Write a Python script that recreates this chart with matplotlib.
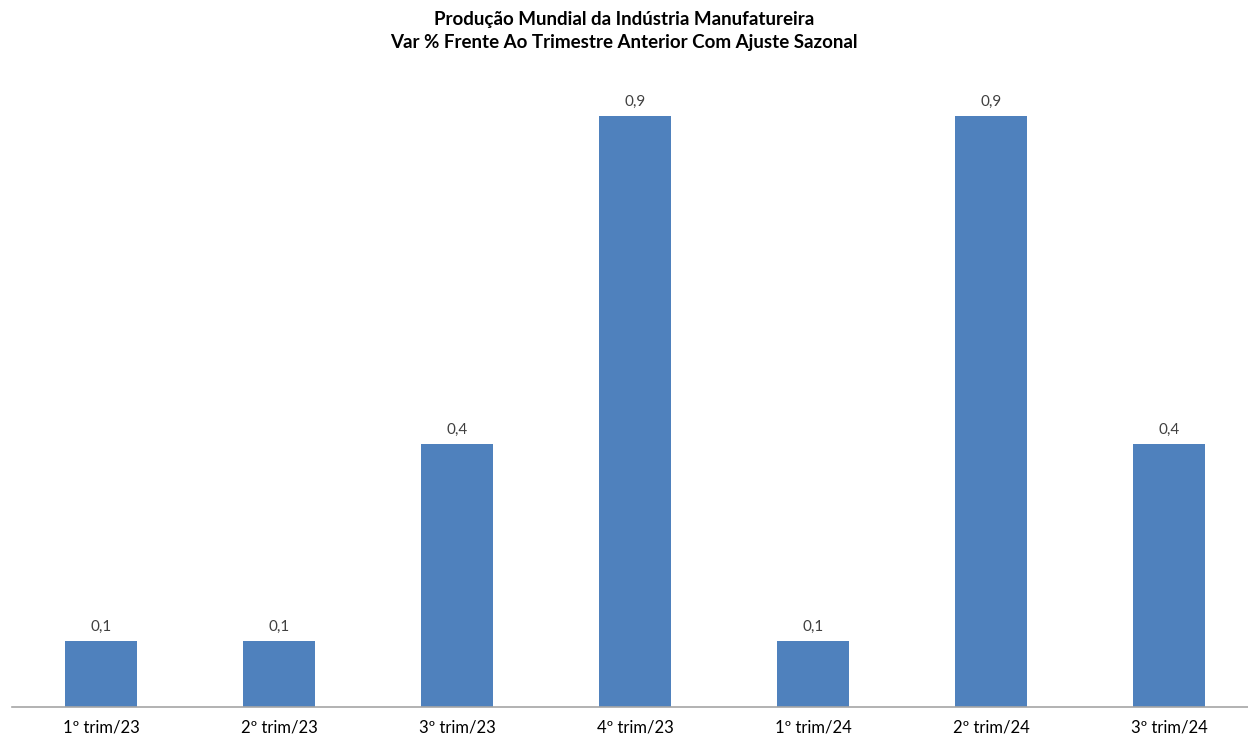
import matplotlib
matplotlib.use("Agg")
import matplotlib.pyplot as plt

categories = ["1º trim/23", "2º trim/23", "3º trim/23", "4º trim/23",
              "1º trim/24", "2º trim/24", "3º trim/24"]
values = [0.1, 0.1, 0.4, 0.9, 0.1, 0.9, 0.4]
value_labels = ["0,1", "0,1", "0,4", "0,9", "0,1", "0,9", "0,4"]
title = "Produção Mundial da Indústria Manufatureira\nVar % Frente Ao Trimestre Anterior Com Ajuste Sazonal"

plt.rcParams['font.family'] = ['Lato', 'DejaVu Sans']

W, H = 1248, 737
fig = plt.figure(figsize=(W / 100, H / 100), dpi=100)
left, right, bottom, top = 12, 1258, 707, 50
ax = fig.add_axes([left / W, (H - bottom) / H, (right - left) / W, (bottom - top) / H])

x = list(range(len(categories)))
bars = ax.bar(x, values, width=0.4, color="#4F81BD", zorder=2)
ax.set_xlim(-0.5, len(categories) - 0.5)
ax.set_ylim(0, 1.0)

for xi, v, lab in zip(x, values, value_labels):
    ax.annotate(lab, (xi, v), xytext=(0, 5), textcoords="offset points",
                ha="center", va="bottom", fontsize=11, color="#404040")

ax.set_xticks(x)
ax.set_xticklabels(categories, fontsize=12, color="#000000")
ax.tick_params(axis="x", length=0, pad=9)
ax.set_yticks([])
for s in ["top", "right", "left"]:
    ax.spines[s].set_visible(False)
ax.spines["bottom"].set_color("#A6A6A6")
ax.spines["bottom"].set_linewidth(1.2)

fig.text(0.5, 1 - 31 / H, title, ha="center", va="center", fontsize=13.5,
         fontweight="bold", color="#000000", linespacing=1.45)

fig.savefig("out.png", dpi=100)
